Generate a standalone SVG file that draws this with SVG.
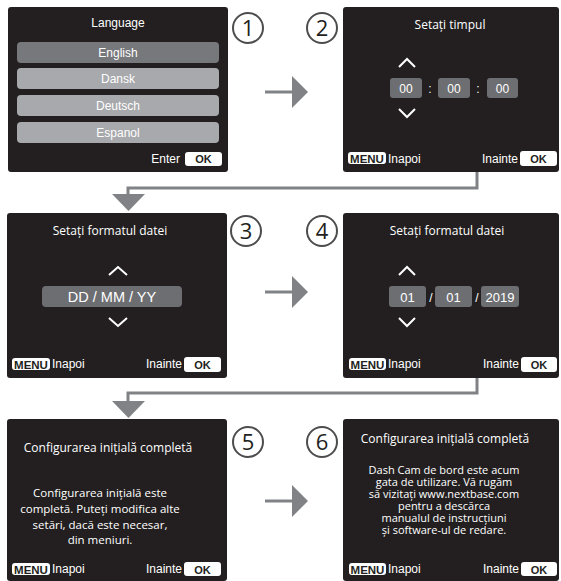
<svg xmlns="http://www.w3.org/2000/svg" width="561" height="581" viewBox="0 0 561 581">
<defs>
<style>
.panel{fill:#231f20}
.num circle{fill:#fff;stroke:#4d4d4f;stroke-width:2}
.num text{font-family:"Open Sans","Liberation Sans",sans-serif;font-size:22px;fill:#231f20;text-anchor:middle}
.ar{font-family:"Liberation Sans",Arial,sans-serif;fill:#fff;text-anchor:middle}
.os{font-family:"Open Sans","Liberation Sans",sans-serif;fill:#fff;text-anchor:middle}
.t12{font-size:12px}
.title{font-size:12px}
.body{font-size:11.5px}
.body6{font-size:11px}
.ok rect{fill:#fff}
.ok text{font-family:"Liberation Sans",Arial,sans-serif;font-weight:bold;font-size:11px;fill:#231f20;text-anchor:middle}
.menu rect{fill:#fff}
.menu text{font-family:"Liberation Sans",Arial,sans-serif;font-weight:bold;font-size:11.5px;fill:#231f20;text-anchor:middle}
.lbl{font-family:"Liberation Sans",Arial,sans-serif;font-size:12px;fill:#fff}
.chev{fill:none;stroke:#fff;stroke-width:2}
.box{fill:#6d6e71}
.conn{fill:none;stroke:#808285;stroke-width:3}
.head{fill:#808285}
</style>
</defs>

<g id="connectors">
<line class="conn" x1="265" y1="92" x2="293" y2="92"/>
<polygon class="head" points="292,76 308,92 292,108"/>
<polyline class="conn" points="477,172 477,188 128,188 128,195"/>
<polygon class="head" points="112,194 145,194 128.5,211"/>
<line class="conn" x1="265" y1="292" x2="293" y2="292"/>
<polygon class="head" points="292,276 308,292 292,308"/>
<polyline class="conn" points="477,378 477,393 128,393 128,402"/>
<polygon class="head" points="112,401 145,401 128.5,418"/>
<line class="conn" x1="265" y1="501" x2="293" y2="501"/>
<polygon class="head" points="292,485 308,501 292,517"/>
</g>

<g id="step1">
<rect class="panel" x="8" y="7" width="220" height="165" rx="3"/>
<text class="ar t12" x="118" y="27">Language</text>
<rect x="17" y="42" width="202" height="21" rx="4" fill="#77787b"/>
<text class="ar t12" x="118" y="57">English</text>
<rect x="17" y="68" width="202" height="21" rx="4" fill="#a7a9ac"/>
<text class="ar t12" x="118" y="83">Dansk</text>
<rect x="17" y="95" width="202" height="21" rx="4" fill="#a7a9ac"/>
<text class="ar t12" x="118" y="110">Deutsch</text>
<rect x="17" y="122" width="202" height="21" rx="4" fill="#a7a9ac"/>
<text class="ar t12" x="118" y="137">Espanol</text>
<text class="lbl" x="180" y="163" text-anchor="end">Enter</text>
<g class="ok"><rect x="185" y="152" width="37" height="14" rx="3"/><text x="203.5" y="163">OK</text></g>
<g class="num"><circle cx="248" cy="28" r="15"/><text x="248" y="36">1</text></g>
</g>

<g id="step2">
<rect class="panel" x="343" y="7" width="216" height="165" rx="3"/>
<text class="os title" x="450" y="29">Setați timpul</text>
<polyline class="chev" points="399,67 407,59 415,67"/>
<rect class="box" x="390" y="78" width="32" height="20" rx="3"/>
<text class="ar t12" x="406" y="93">00</text>
<text class="ar t12" x="430" y="93" fill="#a7a9ac">:</text>
<rect class="box" x="438" y="78" width="32" height="20" rx="3"/>
<text class="ar t12" x="454" y="93">00</text>
<text class="ar t12" x="478" y="93" fill="#a7a9ac">:</text>
<rect class="box" x="487" y="78" width="31" height="20" rx="3"/>
<text class="ar t12" x="502.5" y="93">00</text>
<polyline class="chev" points="399,109 407,117 415,109"/>
<g class="menu"><rect x="348" y="152" width="38" height="12" rx="3"/><text x="367" y="162.5">MENU</text></g>
<text class="lbl" x="388" y="163">Inapoi</text>
<text class="lbl" x="518" y="163" text-anchor="end">Inainte</text>
<g class="ok"><rect x="520" y="151" width="37" height="15" rx="3"/><text x="538.5" y="162.5">OK</text></g>
<g class="num"><circle cx="322" cy="28" r="15"/><text x="322" y="36">2</text></g>
</g>

<g id="step3">
<rect class="panel" x="7" y="213" width="220" height="165" rx="3"/>
<text class="os title" x="110" y="235">Setați formatul datei</text>
<polyline class="chev" points="109,275 118,267 127,275"/>
<rect class="box" x="42" y="286" width="140" height="21" rx="4"/>
<text class="ar" font-size="14.5" x="112" y="302">DD / MM / YY</text>
<polyline class="chev" points="109,318 118,326 127,318"/>
<g class="menu"><rect x="12" y="358" width="38" height="12" rx="3"/><text x="31" y="368.5">MENU</text></g>
<text class="lbl" x="52" y="368">Inapoi</text>
<text class="lbl" x="182" y="368" text-anchor="end">Inainte</text>
<g class="ok"><rect x="184" y="357" width="37" height="15" rx="3"/><text x="202.5" y="368.5">OK</text></g>
<g class="num"><circle cx="246" cy="231" r="15"/><text x="246" y="239">3</text></g>
</g>

<g id="step4">
<rect class="panel" x="343" y="213" width="216" height="165" rx="3"/>
<text class="os title" x="447" y="235">Setați formatul datei</text>
<polyline class="chev" points="399,275 407,267 415,275"/>
<rect class="box" x="389" y="286" width="37" height="21" rx="3"/>
<text class="ar" font-size="13" x="407.5" y="302">01</text>
<text class="ar t12" x="431" y="302" fill="#a7a9ac">/</text>
<rect class="box" x="435" y="286" width="37" height="21" rx="3"/>
<text class="ar" font-size="13" x="453.5" y="302">01</text>
<text class="ar t12" x="477" y="302" fill="#a7a9ac">/</text>
<rect class="box" x="481" y="286" width="38" height="21" rx="3"/>
<text class="ar" font-size="13" x="500" y="302">2019</text>
<polyline class="chev" points="399,318 407,326 415,318"/>
<g class="menu"><rect x="349" y="358" width="37" height="12" rx="3"/><text x="367.5" y="368.5">MENU</text></g>
<text class="lbl" x="388" y="368">Inapoi</text>
<text class="lbl" x="519" y="368" text-anchor="end">Inainte</text>
<g class="ok"><rect x="521" y="357" width="36" height="15" rx="3"/><text x="539" y="368.5">OK</text></g>
<g class="num"><circle cx="322" cy="231" r="15"/><text x="322" y="239">4</text></g>
</g>

<g id="step5">
<rect class="panel" x="7" y="419" width="220" height="162" rx="3"/>
<text class="os title" x="108" y="452">Configurarea inițială completă</text>
<text class="os body"><tspan x="100" y="497">Configurarea inițială este</tspan><tspan x="100" y="513">completă. Puteți modifica alte</tspan><tspan x="100" y="529">setări, dacă este necesar,</tspan><tspan x="100" y="544">din meniuri.</tspan></text>
<g class="menu"><rect x="12" y="563" width="38" height="12" rx="3"/><text x="31" y="573.5">MENU</text></g>
<text class="lbl" x="52" y="573">Inapoi</text>
<text class="lbl" x="182" y="573" text-anchor="end">Inainte</text>
<g class="ok"><rect x="184" y="562" width="37" height="14" rx="3"/><text x="202.5" y="573.5">OK</text></g>
<g class="num"><circle cx="248" cy="442" r="15"/><text x="248" y="450">5</text></g>
</g>

<g id="step6">
<rect class="panel" x="343" y="419" width="216" height="162" rx="3"/>
<text class="os title" x="445" y="443">Configurarea inițială completă</text>
<text class="os body6"><tspan x="444" y="474">Dash Cam de bord este acum</tspan><tspan x="444" y="486">gata de utilizare. Vă rugăm</tspan><tspan x="444" y="498">să vizitați www.nextbase.com</tspan><tspan x="444" y="510">pentru a descărca</tspan><tspan x="444" y="522">manualul de instrucțiuni</tspan><tspan x="444" y="534">și software-ul de redare.</tspan></text>
<g class="menu"><rect x="349" y="563" width="37" height="12" rx="3"/><text x="367.5" y="573.5">MENU</text></g>
<text class="lbl" x="388" y="573">Inapoi</text>
<text class="lbl" x="519" y="573" text-anchor="end">Inainte</text>
<g class="ok"><rect x="521" y="562" width="36" height="14" rx="3"/><text x="539" y="573.5">OK</text></g>
<g class="num"><circle cx="322" cy="442" r="15"/><text x="322" y="450">6</text></g>
</g>
</svg>
